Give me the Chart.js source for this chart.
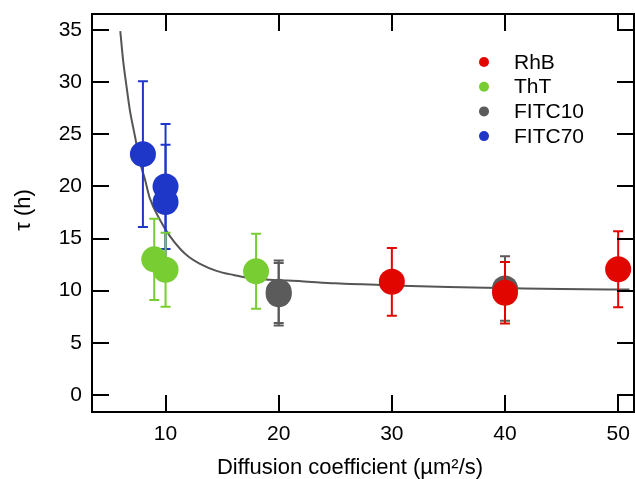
<!DOCTYPE html>
<html>
<head>
<meta charset="utf-8">
<script src="https://cdn.jsdelivr.net/npm/chart.js@4.4.1/dist/chart.umd.min.js"></script>
<style>
  html, body { margin: 0; padding: 0; background: #fff; }
  #wrap { width: 635px; height: 479px; }
</style>
</head>
<body>
<div id="wrap"><canvas id="tauChart" width="635" height="479"></canvas></div>
<script>
// tau vs diffusion coefficient

const xTicks = [10, 20, 30, 40, 50];
const yTicks = [0, 5, 10, 15, 20, 25, 30, 35];

const rhbX = [30, 40, 50];
const rhbY = [10.85, 9.8, 12.05];
const rhbErr = [3.25, 2.95, 3.65];

const thtX = [9, 10, 18];
const thtY = [13.0, 12.0, 11.85];
const thtErr = [3.9, 3.55, 3.6];

const fitc10X = [20, 20, 40];
const fitc10Y = [9.9, 9.65, 10.2];
const fitc10Err = [3.0, 3.0, 3.1];

const fitc70X = [8, 10, 10];
const fitc70Y = [23.1, 20.0, 18.5];
const fitc70Err = [7.0, 6.0, 5.5];

// fitted curve, traced point by point
const fitX = [6.0, 6.25, 6.55, 6.85, 7.3, 7.7, 8.2, 8.6, 9.5, 10.4, 11.3, 12.1, 13.0, 14.5, 16, 17.5, 19.2, 22, 25, 30, 35, 40, 45, 51];
const fitY = [34.9, 32.1, 29.6, 27.3, 24.8, 22.5, 20.6, 18.9, 16.8, 15.2, 14.0, 13.2, 12.6, 11.9, 11.5, 11.2, 11.05, 10.9, 10.7, 10.5, 10.35, 10.25, 10.15, 10.1];

const FONT = '"Liberation Sans", Arial, Helvetica, sans-serif';

function pts(xs, ys) {
  return xs.map((x, i) => ({ x: x, y: ys[i] }));
}

function markers(label, color, xs, ys, errs) {
  return {
    label: label,
    data: pts(xs, ys),
    errors: errs,
    backgroundColor: color,
    borderWidth: 0,
    pointRadius: 13,
    pointHoverRadius: 13
  };
}

const errorBars = {
  id: 'errorBars',
  beforeDatasetDraw(chart, args) {
    const ds = chart.data.datasets[args.index];
    if (!ds.errors) return;
    const ctx = chart.ctx;
    const xs = chart.scales.x, ys = chart.scales.y;
    ctx.save();
    ctx.strokeStyle = ds.backgroundColor;
    ctx.lineWidth = 2;
    ds.data.forEach((p, i) => {
      const px = xs.getPixelForValue(p.x);
      const top = ys.getPixelForValue(p.y + ds.errors[i]);
      const bot = ys.getPixelForValue(p.y - ds.errors[i]);
      ctx.beginPath();
      ctx.moveTo(px, top); ctx.lineTo(px, bot);
      ctx.moveTo(px - 5, top); ctx.lineTo(px + 5, top);
      ctx.moveTo(px - 5, bot); ctx.lineTo(px + 5, bot);
      ctx.stroke();
    });
    ctx.restore();
  }
};

// box with inward ticks on all four sides
const frame = {
  id: 'frame',
  afterDatasetsDraw(chart) {
    const ctx = chart.ctx;
    const a = chart.chartArea;
    const xs = chart.scales.x, ys = chart.scales.y;
    const len = 17;
    ctx.save();
    ctx.strokeStyle = '#000';
    ctx.lineWidth = 2;
    ctx.beginPath();
    xTicks.forEach(v => {
      const px = Math.round(xs.getPixelForValue(v));
      ctx.moveTo(px, a.bottom); ctx.lineTo(px, a.bottom - len);
      ctx.moveTo(px, a.top); ctx.lineTo(px, a.top + len);
    });
    yTicks.forEach(v => {
      const py = Math.round(ys.getPixelForValue(v));
      ctx.moveTo(a.left, py); ctx.lineTo(a.left + len, py);
      ctx.moveTo(a.right, py); ctx.lineTo(a.right - len, py);
    });
    ctx.stroke();
    ctx.strokeRect(a.left, a.top, a.right - a.left, a.bottom - a.top);
    ctx.restore();
  },
  afterDraw(chart) {
    const ctx = chart.ctx;
    ctx.save();
    ctx.fillStyle = '#000';
    ctx.font = '22px ' + FONT;
    ctx.textAlign = 'center';
    ctx.textBaseline = 'middle';
    ctx.fillText('Diffusion coefficient (\u00b5m\u00b2/s)', 350, 468);
    ctx.translate(24, 210);
    ctx.rotate(-Math.PI / 2);
    ctx.fillText('\u03c4 (h)', 0, 0);
    ctx.restore();

    // legend
    ctx.save();
    ctx.font = '21px ' + FONT;
    ctx.textAlign = 'left';
    ctx.textBaseline = 'middle';
    chart.data.datasets.slice(0, 4).forEach((ds, i) => {
      const cy = 62 + i * 24.7;
      ctx.fillStyle = ds.backgroundColor;
      ctx.beginPath();
      ctx.arc(484, cy, 5, 0, Math.PI * 2);
      ctx.fill();
      ctx.fillStyle = '#000';
      ctx.fillText(ds.label, 514, cy + 1);
    });
    ctx.restore();
  }
};

new Chart(document.getElementById('tauChart'), {
  type: 'scatter',
  data: {
    datasets: [
      markers('RhB', '#e10600', rhbX, rhbY, rhbErr),
      markers('ThT', '#78cd32', thtX, thtY, thtErr),
      markers('FITC10', '#5b5b5b', fitc10X, fitc10Y, fitc10Err),
      markers('FITC70', '#1f37c9', fitc70X, fitc70Y, fitc70Err),
      {
        label: 'fit',
        data: pts(fitX, fitY),
        showLine: true,
        borderColor: '#555555',
        borderWidth: 2,
        pointRadius: 0,
        cubicInterpolationMode: 'monotone'
      }
    ]
  },
  options: {
    responsive: false,
    animation: false,
    devicePixelRatio: 1,
    events: [],
    layout: { autoPadding: false, padding: { top: 14, right: 1, left: 0, bottom: 0 } },
    plugins: {
      legend: { display: false },
      tooltip: { enabled: false }
    },
    scales: {
      x: {
        type: 'linear',
        min: 3.5,
        max: 51.4,
        afterBuildTicks: s => { s.ticks = xTicks.map(v => ({ value: v })); },
        afterFit: s => { s.height = 67; s.paddingLeft = 0; s.paddingRight = 0; },
        grid: { display: false, drawTicks: false },
        border: { display: false },
        ticks: { color: '#000', font: { size: 21, family: FONT }, padding: 10, maxRotation: 0 }
      },
      y: {
        type: 'linear',
        min: -1.65,
        max: 36.55,
        afterBuildTicks: s => { s.ticks = yTicks.map(v => ({ value: v })); },
        afterFit: s => { s.width = 92; s.paddingTop = 0; s.paddingBottom = 0; },
        grid: { display: false, drawTicks: false },
        border: { display: false },
        ticks: { color: '#000', font: { size: 21, family: FONT }, padding: 10 }
      }
    }
  },
  plugins: [errorBars, frame]
});
</script>
</body>
</html>
